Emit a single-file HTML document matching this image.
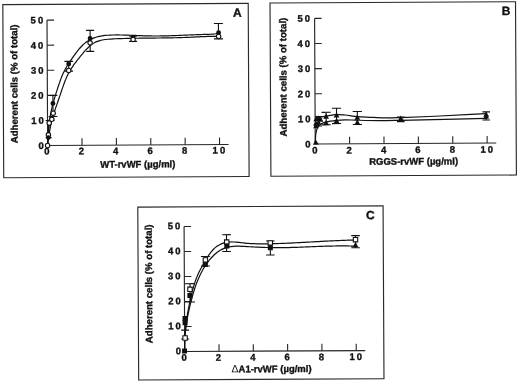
<!DOCTYPE html><html><head><meta charset="utf-8"><title>Figure</title><style>html,body{margin:0;padding:0;background:#fff;}svg{display:block}</style></head><body>
<svg width="520" height="383" viewBox="0 0 520 383">
<rect width="520" height="383" fill="#fff"/>
<g transform="rotate(-0.3 260 191.5)">
<rect x="3.80" y="3.25" width="245.40" height="173.20" fill="none" stroke="#2a2a2a" stroke-width="1.15"/>
<rect x="271.00" y="3.05" width="245.50" height="173.30" fill="none" stroke="#2a2a2a" stroke-width="1.15"/>
<rect x="137.70" y="206.50" width="245.30" height="172.85" fill="none" stroke="#2a2a2a" stroke-width="1.15"/>
<path d="M47.90 19.01 V144.36 H228.80" fill="none" stroke="#262626" stroke-width="1.15"/>
<path d="M47.90 119.29 h7M47.90 94.22 h7M47.90 69.15 h7M47.90 44.08 h7M47.90 19.01 h7M82.28 144.36 v-7M116.66 144.36 v-7M151.04 144.36 v-7M185.42 144.36 v-7M219.80 144.36 v-7" fill="none" stroke="#262626" stroke-width="1.1"/>
<text x="38.78" y="147.76" font-size="9.5" font-family="'Liberation Sans', Arial, Helvetica, sans-serif" font-weight="bold" stroke="#111" stroke-width="0.35" fill="#111">0</text>
<text x="31.50 38.78" y="122.69" font-size="9.5" font-family="'Liberation Sans', Arial, Helvetica, sans-serif" font-weight="bold" stroke="#111" stroke-width="0.35" fill="#111">10</text>
<text x="31.50 38.78" y="97.62" font-size="9.5" font-family="'Liberation Sans', Arial, Helvetica, sans-serif" font-weight="bold" stroke="#111" stroke-width="0.35" fill="#111">20</text>
<text x="31.50 38.78" y="72.55" font-size="9.5" font-family="'Liberation Sans', Arial, Helvetica, sans-serif" font-weight="bold" stroke="#111" stroke-width="0.35" fill="#111">30</text>
<text x="31.50 38.78" y="47.48" font-size="9.5" font-family="'Liberation Sans', Arial, Helvetica, sans-serif" font-weight="bold" stroke="#111" stroke-width="0.35" fill="#111">40</text>
<text x="31.50 38.78" y="22.41" font-size="9.5" font-family="'Liberation Sans', Arial, Helvetica, sans-serif" font-weight="bold" stroke="#111" stroke-width="0.35" fill="#111">50</text>
<text x="44.56" y="153.36" font-size="9.5" font-family="'Liberation Sans', Arial, Helvetica, sans-serif" font-weight="bold" stroke="#111" stroke-width="0.35" fill="#111">0</text>
<text x="78.94" y="153.36" font-size="9.5" font-family="'Liberation Sans', Arial, Helvetica, sans-serif" font-weight="bold" stroke="#111" stroke-width="0.35" fill="#111">2</text>
<text x="113.32" y="153.36" font-size="9.5" font-family="'Liberation Sans', Arial, Helvetica, sans-serif" font-weight="bold" stroke="#111" stroke-width="0.35" fill="#111">4</text>
<text x="147.70" y="153.36" font-size="9.5" font-family="'Liberation Sans', Arial, Helvetica, sans-serif" font-weight="bold" stroke="#111" stroke-width="0.35" fill="#111">6</text>
<text x="182.08" y="153.36" font-size="9.5" font-family="'Liberation Sans', Arial, Helvetica, sans-serif" font-weight="bold" stroke="#111" stroke-width="0.35" fill="#111">8</text>
<text x="212.82 220.10" y="153.36" font-size="9.5" font-family="'Liberation Sans', Arial, Helvetica, sans-serif" font-weight="bold" stroke="#111" stroke-width="0.35" fill="#111">10</text>
<text x="100.40" y="166.80" font-size="9.5" font-family="'Liberation Sans', Arial, Helvetica, sans-serif" font-weight="bold" stroke="#111" stroke-width="0.35" fill="#111">WT-rvWF (µg/ml)</text>
<text transform="translate(18.06 142.00) rotate(-90)" x="0" y="0" font-size="9.65" font-family="'Liberation Sans', Arial, Helvetica, sans-serif" font-weight="bold" stroke="#111" stroke-width="0.35" fill="#111">Adherent cells (% of total)</text>
<text x="234.00" y="16.70" font-size="12" font-family="'Liberation Sans', Arial, Helvetica, sans-serif" font-weight="bold" stroke="#111" stroke-width="0.35" fill="#111">A</text>
<path d="M47.82 144.18 C47.89 143.26 47.96 142.35 48.02 141.43 C48.09 140.51 48.15 139.59 48.22 138.67 C48.29 137.75 48.35 136.83 48.42 135.90 C48.49 134.98 48.56 134.06 48.63 133.13 C48.70 132.21 48.78 131.28 48.86 130.36 C48.94 129.43 49.02 128.51 49.11 127.59 C49.19 126.66 49.29 125.74 49.38 124.81 C49.48 123.89 49.59 122.97 49.70 122.05 C49.81 121.13 49.93 120.21 50.06 119.29 C50.18 118.37 50.32 117.46 50.46 116.54 C50.60 115.63 50.76 114.72 50.92 113.81 C51.08 112.90 51.26 111.99 51.44 111.08 C51.62 110.18 51.82 109.28 52.02 108.38 C52.22 107.48 52.43 106.58 52.66 105.68 C52.88 104.79 53.10 103.89 53.34 103.00 C53.58 102.11 53.82 101.22 54.07 100.33 C54.32 99.44 54.58 98.55 54.84 97.67 C55.11 96.78 55.38 95.89 55.65 95.01 C55.93 94.13 56.21 93.25 56.49 92.36 C56.77 91.48 57.06 90.60 57.35 89.72 C57.64 88.84 57.94 87.96 58.24 87.09 C58.53 86.21 58.83 85.33 59.14 84.45 C59.44 83.58 59.74 82.70 60.05 81.82 C60.36 80.95 60.67 80.07 60.99 79.20 C61.31 78.33 61.64 77.47 61.98 76.61 C62.32 75.75 62.67 74.89 63.04 74.04 C63.41 73.20 63.80 72.36 64.20 71.53 C64.61 70.70 65.03 69.88 65.47 69.07 C65.91 68.26 66.37 67.46 66.84 66.66 C67.30 65.87 67.79 65.08 68.28 64.30 C68.76 63.52 69.26 62.74 69.76 61.97 C70.27 61.20 70.77 60.43 71.28 59.66 C71.80 58.90 72.32 58.14 72.84 57.38 C73.37 56.62 73.90 55.87 74.44 55.12 C74.98 54.36 75.53 53.62 76.09 52.87 C76.65 52.12 77.21 51.38 77.79 50.64 C78.37 49.90 78.96 49.17 79.56 48.45 C80.16 47.73 80.78 47.02 81.41 46.33 C82.04 45.65 82.69 44.97 83.35 44.33 C84.02 43.68 84.70 43.05 85.41 42.46 C86.11 41.87 86.83 41.30 87.58 40.77 C88.33 40.24 89.10 39.74 89.89 39.29 C90.69 38.83 91.51 38.41 92.34 38.03 C93.18 37.65 94.03 37.30 94.90 36.99 C95.77 36.68 96.66 36.40 97.55 36.15 C98.44 35.90 99.34 35.68 100.25 35.49 C101.16 35.30 102.07 35.14 102.99 35.01 C103.90 34.87 104.82 34.76 105.74 34.66 C106.66 34.57 107.59 34.50 108.51 34.44 C109.44 34.38 110.36 34.34 111.29 34.31 C112.22 34.27 113.14 34.25 114.07 34.24 C115.00 34.22 115.92 34.21 116.85 34.21 C117.77 34.21 118.70 34.22 119.63 34.23 C120.55 34.24 121.48 34.25 122.40 34.27 C123.33 34.29 124.25 34.32 125.17 34.35 C126.10 34.37 127.02 34.41 127.95 34.44 C128.87 34.47 129.80 34.51 130.72 34.55 C131.64 34.59 132.57 34.63 133.49 34.68 C134.41 34.72 135.34 34.76 136.26 34.81 C137.18 34.85 138.11 34.89 139.03 34.94 C139.95 34.98 140.88 35.02 141.80 35.06 C142.73 35.10 143.65 35.14 144.57 35.18 C145.50 35.21 146.42 35.25 147.34 35.28 C148.27 35.31 149.19 35.34 150.12 35.36 C151.04 35.39 151.96 35.40 152.89 35.42 C153.81 35.43 154.74 35.44 155.66 35.45 C156.59 35.46 157.51 35.46 158.44 35.46 C159.36 35.46 160.29 35.46 161.21 35.45 C162.14 35.44 163.06 35.43 163.99 35.42 C164.91 35.41 165.84 35.39 166.76 35.37 C167.69 35.35 168.61 35.33 169.54 35.31 C170.46 35.29 171.39 35.26 172.31 35.24 C173.24 35.21 174.17 35.18 175.09 35.15 C176.02 35.12 176.94 35.09 177.87 35.06 C178.79 35.03 179.72 34.99 180.65 34.96 C181.57 34.93 182.50 34.89 183.42 34.86 C184.35 34.82 185.27 34.79 186.20 34.75 C187.12 34.72 188.05 34.68 188.97 34.65 C189.90 34.61 190.83 34.58 191.75 34.54 C192.68 34.51 193.60 34.48 194.53 34.45 C195.45 34.41 196.38 34.38 197.30 34.35 C198.23 34.32 199.15 34.30 200.07 34.27 C201.00 34.24 201.92 34.22 202.85 34.20 C203.77 34.18 204.70 34.16 205.62 34.14 C206.54 34.12 207.47 34.11 208.39 34.09 C209.31 34.06 210.24 34.04 211.16 34.00 C212.08 33.95 213.00 33.90 213.92 33.82 C214.84 33.74 215.76 33.64 216.68 33.50 C217.60 33.36 218.51 33.16 219.43 32.99" fill="none" stroke="#111" stroke-width="1.2"/>
<path d="M47.80 144.17 C47.94 143.30 48.08 142.42 48.22 141.54 C48.35 140.66 48.48 139.77 48.62 138.88 C48.75 137.99 48.88 137.10 49.01 136.21 C49.14 135.31 49.28 134.42 49.41 133.52 C49.55 132.62 49.69 131.73 49.84 130.83 C49.98 129.94 50.13 129.04 50.29 128.15 C50.45 127.25 50.61 126.36 50.79 125.47 C50.96 124.58 51.14 123.70 51.34 122.81 C51.53 121.93 51.74 121.05 51.95 120.18 C52.17 119.31 52.40 118.44 52.64 117.58 C52.88 116.71 53.13 115.85 53.39 115.00 C53.65 114.14 53.92 113.29 54.20 112.44 C54.48 111.59 54.76 110.74 55.05 109.90 C55.34 109.05 55.64 108.21 55.93 107.36 C56.23 106.52 56.54 105.68 56.84 104.83 C57.14 103.99 57.44 103.14 57.75 102.30 C58.05 101.45 58.35 100.60 58.65 99.75 C58.95 98.90 59.25 98.05 59.54 97.19 C59.84 96.34 60.13 95.48 60.42 94.62 C60.71 93.76 61.00 92.90 61.30 92.04 C61.59 91.18 61.88 90.32 62.18 89.46 C62.47 88.60 62.77 87.75 63.08 86.89 C63.38 86.03 63.69 85.18 64.00 84.33 C64.31 83.48 64.63 82.63 64.96 81.79 C65.29 80.95 65.62 80.11 65.97 79.28 C66.31 78.45 66.67 77.62 67.03 76.80 C67.40 75.98 67.77 75.17 68.16 74.36 C68.55 73.56 68.95 72.76 69.37 71.97 C69.79 71.18 70.22 70.40 70.66 69.63 C71.11 68.86 71.57 68.09 72.05 67.34 C72.53 66.59 73.03 65.85 73.54 65.12 C74.05 64.39 74.57 63.67 75.11 62.95 C75.64 62.23 76.19 61.52 76.74 60.81 C77.30 60.10 77.86 59.40 78.43 58.70 C79.00 57.99 79.58 57.29 80.16 56.59 C80.74 55.89 81.33 55.19 81.91 54.49 C82.50 53.79 83.09 53.09 83.68 52.39 C84.28 51.69 84.87 51.00 85.48 50.31 C86.09 49.63 86.70 48.95 87.33 48.30 C87.95 47.64 88.59 47.00 89.25 46.38 C89.90 45.77 90.57 45.17 91.26 44.60 C91.95 44.04 92.66 43.50 93.39 43.00 C94.12 42.51 94.87 42.05 95.64 41.64 C96.42 41.24 97.22 40.88 98.03 40.57 C98.85 40.25 99.69 39.98 100.54 39.75 C101.40 39.51 102.27 39.32 103.15 39.15 C104.03 38.98 104.93 38.84 105.83 38.72 C106.73 38.61 107.64 38.52 108.55 38.44 C109.46 38.36 110.38 38.30 111.30 38.25 C112.21 38.19 113.13 38.15 114.04 38.11 C114.95 38.07 115.86 38.03 116.77 38.00 C117.67 37.97 118.58 37.94 119.48 37.91 C120.38 37.88 121.28 37.86 122.18 37.84 C123.08 37.81 123.98 37.79 124.88 37.77 C125.78 37.76 126.68 37.74 127.58 37.72 C128.48 37.71 129.37 37.69 130.27 37.68 C131.17 37.67 132.07 37.66 132.97 37.64 C133.87 37.63 134.77 37.62 135.67 37.61 C136.57 37.60 137.47 37.60 138.37 37.59 C139.27 37.58 140.17 37.57 141.07 37.57 C141.97 37.56 142.87 37.56 143.77 37.55 C144.67 37.55 145.57 37.54 146.47 37.54 C147.37 37.53 148.27 37.53 149.17 37.52 C150.07 37.52 150.97 37.51 151.87 37.51 C152.77 37.51 153.67 37.50 154.58 37.50 C155.48 37.49 156.38 37.49 157.28 37.48 C158.18 37.48 159.08 37.47 159.98 37.47 C160.88 37.46 161.78 37.46 162.68 37.45 C163.58 37.44 164.48 37.44 165.38 37.43 C166.29 37.42 167.19 37.41 168.09 37.40 C168.99 37.39 169.89 37.38 170.79 37.37 C171.69 37.36 172.59 37.35 173.49 37.33 C174.39 37.32 175.29 37.30 176.19 37.29 C177.10 37.27 178.00 37.25 178.90 37.24 C179.80 37.22 180.70 37.20 181.60 37.17 C182.50 37.15 183.40 37.13 184.30 37.10 C185.20 37.08 186.10 37.05 187.00 37.02 C187.90 36.99 188.80 36.96 189.70 36.93 C190.60 36.89 191.50 36.86 192.40 36.82 C193.30 36.78 194.20 36.74 195.10 36.70 C196.00 36.67 196.90 36.62 197.80 36.58 C198.70 36.54 199.60 36.50 200.50 36.47 C201.40 36.43 202.30 36.39 203.20 36.35 C204.10 36.32 205.00 36.28 205.90 36.25 C206.80 36.22 207.70 36.19 208.60 36.17 C209.50 36.14 210.40 36.12 211.30 36.10 C212.21 36.08 213.11 36.07 214.01 36.06 C214.91 36.06 215.81 36.05 216.71 36.06 C217.61 36.06 218.51 36.08 219.41 36.09" fill="none" stroke="#111" stroke-width="1.2"/>
<path d="M53.40 94.32 V115.42 M49.00 94.32 h8.80 M49.00 115.42 h8.80" fill="none" stroke="#111" stroke-width="1.1"/>
<path d="M69.38 60.40 V70.10 M65.08 60.40 h8.60 M65.08 70.10 h8.60" fill="none" stroke="#111" stroke-width="1.1"/>
<path d="M90.94 29.51 V50.51 M86.94 29.51 h8.00 M86.94 50.51 h8.00" fill="none" stroke="#111" stroke-width="1.1"/>
<path d="M133.91 35.54 V40.74 M129.91 35.54 h8.00 M129.91 40.74 h8.00" fill="none" stroke="#111" stroke-width="1.1"/>
<path d="M219.28 23.28 V38.68 M214.78 23.28 h9.00 M214.78 38.68 h9.00" fill="none" stroke="#111" stroke-width="1.1"/>
<path d="M48.97 119.39 V136.49 M45.97 119.39 h6.00 M45.97 136.49 h6.00" fill="none" stroke="#111" stroke-width="1.1"/>
<circle cx="47.84" cy="144.39" r="2.2" fill="#fff" stroke="#111" stroke-width="1.1"/>
<circle cx="48.70" cy="133.69" r="2.2" fill="#fff" stroke="#111" stroke-width="1.1"/>
<circle cx="48.68" cy="136.49" r="2.45" fill="#111"/>
<circle cx="49.56" cy="121.90" r="2.2" fill="#fff" stroke="#111" stroke-width="1.1"/>
<circle cx="52.18" cy="118.21" r="2.2" fill="#fff" stroke="#111" stroke-width="1.1"/>
<circle cx="53.36" cy="102.32" r="2.45" fill="#111"/>
<circle cx="53.61" cy="112.12" r="2.2" fill="#fff" stroke="#111" stroke-width="1.1"/>
<circle cx="69.37" cy="62.90" r="2.45" fill="#111"/>
<circle cx="69.33" cy="69.50" r="2.2" fill="#fff" stroke="#111" stroke-width="1.1"/>
<circle cx="90.90" cy="37.61" r="2.45" fill="#111"/>
<circle cx="90.88" cy="41.91" r="2.2" fill="#fff" stroke="#111" stroke-width="1.1"/>
<circle cx="133.91" cy="36.94" r="2.45" fill="#111"/>
<circle cx="133.90" cy="38.74" r="2.2" fill="#fff" stroke="#111" stroke-width="1.1"/>
<circle cx="219.43" cy="32.58" r="2.45" fill="#111"/>
<circle cx="219.41" cy="36.18" r="2.2" fill="#fff" stroke="#111" stroke-width="1.1"/>
<path d="M315.50 18.67 V144.27 H496.50" fill="none" stroke="#262626" stroke-width="1.15"/>
<path d="M315.50 119.15 h7M315.50 94.03 h7M315.50 68.91 h7M315.50 43.79 h7M315.50 18.67 h7M349.88 144.27 v-7M384.26 144.27 v-7M418.64 144.27 v-7M453.02 144.27 v-7M487.40 144.27 v-7" fill="none" stroke="#262626" stroke-width="1.1"/>
<text x="305.58" y="147.67" font-size="9.5" font-family="'Liberation Sans', Arial, Helvetica, sans-serif" font-weight="bold" stroke="#111" stroke-width="0.35" fill="#111">0</text>
<text x="298.30 305.58" y="122.55" font-size="9.5" font-family="'Liberation Sans', Arial, Helvetica, sans-serif" font-weight="bold" stroke="#111" stroke-width="0.35" fill="#111">10</text>
<text x="298.30 305.58" y="97.43" font-size="9.5" font-family="'Liberation Sans', Arial, Helvetica, sans-serif" font-weight="bold" stroke="#111" stroke-width="0.35" fill="#111">20</text>
<text x="298.30 305.58" y="72.31" font-size="9.5" font-family="'Liberation Sans', Arial, Helvetica, sans-serif" font-weight="bold" stroke="#111" stroke-width="0.35" fill="#111">30</text>
<text x="298.30 305.58" y="47.19" font-size="9.5" font-family="'Liberation Sans', Arial, Helvetica, sans-serif" font-weight="bold" stroke="#111" stroke-width="0.35" fill="#111">40</text>
<text x="298.30 305.58" y="22.07" font-size="9.5" font-family="'Liberation Sans', Arial, Helvetica, sans-serif" font-weight="bold" stroke="#111" stroke-width="0.35" fill="#111">50</text>
<text x="312.36" y="153.87" font-size="9.5" font-family="'Liberation Sans', Arial, Helvetica, sans-serif" font-weight="bold" stroke="#111" stroke-width="0.35" fill="#111">0</text>
<text x="346.74" y="153.87" font-size="9.5" font-family="'Liberation Sans', Arial, Helvetica, sans-serif" font-weight="bold" stroke="#111" stroke-width="0.35" fill="#111">2</text>
<text x="381.12" y="153.87" font-size="9.5" font-family="'Liberation Sans', Arial, Helvetica, sans-serif" font-weight="bold" stroke="#111" stroke-width="0.35" fill="#111">4</text>
<text x="415.50" y="153.87" font-size="9.5" font-family="'Liberation Sans', Arial, Helvetica, sans-serif" font-weight="bold" stroke="#111" stroke-width="0.35" fill="#111">6</text>
<text x="449.88" y="153.87" font-size="9.5" font-family="'Liberation Sans', Arial, Helvetica, sans-serif" font-weight="bold" stroke="#111" stroke-width="0.35" fill="#111">8</text>
<text x="480.62 487.90" y="153.87" font-size="9.5" font-family="'Liberation Sans', Arial, Helvetica, sans-serif" font-weight="bold" stroke="#111" stroke-width="0.35" fill="#111">10</text>
<text x="369.34" y="165.40" font-size="9.5" font-family="'Liberation Sans', Arial, Helvetica, sans-serif" font-weight="bold" stroke="#111" stroke-width="0.35" fill="#111">RGGS-rvWF (µg/ml)</text>
<text transform="translate(287.00 136.60) rotate(-90)" x="0" y="0" font-size="9.65" font-family="'Liberation Sans', Arial, Helvetica, sans-serif" font-weight="bold" stroke="#111" stroke-width="0.35" fill="#111">Adherent cells (% of total)</text>
<text x="502.70" y="16.20" font-size="12" font-family="'Liberation Sans', Arial, Helvetica, sans-serif" font-weight="bold" stroke="#111" stroke-width="0.35" fill="#111">B</text>
<path d="M316.38 119.29 C317.05 118.83 317.43 118.29 318.39 117.90 C320.13 117.19 323.62 117.00 326.49 116.55 C329.75 116.03 333.60 115.16 336.90 115.00 C339.87 114.86 342.31 115.16 345.40 115.45 C349.13 115.79 353.55 116.70 357.69 117.11 C361.88 117.52 365.98 117.64 370.39 117.88 C375.18 118.13 380.32 118.47 385.39 118.55 C390.58 118.64 394.74 118.50 401.19 118.34 C411.34 118.09 426.79 117.50 440.40 116.94 C455.17 116.33 471.20 115.50 486.61 114.78" fill="none" stroke="#111" stroke-width="1.2"/>
<path d="M315.55 143.79 C315.73 140.62 315.64 137.11 316.10 134.29 C316.49 131.96 316.83 129.74 317.83 128.00 C318.75 126.41 320.18 125.08 321.65 124.12 C323.10 123.18 324.59 122.76 326.56 122.25 C329.34 121.52 333.59 121.03 336.87 120.70 C339.84 120.40 342.28 120.27 345.38 120.25 C349.10 120.22 352.95 120.57 357.67 120.71 C364.09 120.90 372.97 121.18 380.37 121.23 C387.46 121.28 391.89 121.16 401.17 121.04 C419.99 120.78 458.11 120.00 486.58 119.48" fill="none" stroke="#111" stroke-width="1.2"/>
<path d="M326.51 112.65 V125.15 M321.91 112.65 h9.20 M321.91 125.15 h9.20" fill="none" stroke="#111" stroke-width="1.1"/>
<path d="M336.94 108.70 V124.00 M332.34 108.70 h9.20 M332.34 124.00 h9.20" fill="none" stroke="#111" stroke-width="1.1"/>
<path d="M357.72 112.01 V125.01 M353.12 112.01 h9.20 M353.12 125.01 h9.20" fill="none" stroke="#111" stroke-width="1.1"/>
<path d="M401.19 117.74 V122.34 M397.39 117.74 h7.60 M397.39 122.34 h7.60" fill="none" stroke="#111" stroke-width="1.1"/>
<path d="M486.62 113.08 V121.18 M482.82 113.08 h7.60 M482.82 121.18 h7.60" fill="none" stroke="#111" stroke-width="1.1"/>
<path d="M318.89 116.81 V126.31 M315.39 116.81 h7.00 M315.39 126.31 h7.00" fill="none" stroke="#111" stroke-width="1.1"/>
<path d="M326.49 113.85 L329.39 119.07 L323.59 119.07Z" fill="#111"/>
<path d="M326.46 120.25 L329.36 125.47 L323.56 125.47Z" fill="#111"/>
<path d="M336.90 112.70 L339.80 117.92 L334.00 117.92Z" fill="#111"/>
<path d="M336.87 118.30 L339.77 123.52 L333.97 123.52Z" fill="#111"/>
<path d="M357.69 115.01 L360.59 120.23 L354.79 120.23Z" fill="#111"/>
<path d="M357.66 119.91 L360.56 125.13 L354.76 125.13Z" fill="#111"/>
<path d="M401.18 116.14 L404.08 121.36 L398.28 121.36Z" fill="#111"/>
<path d="M401.18 117.44 L404.08 122.66 L398.28 122.66Z" fill="#111"/>
<path d="M486.60 112.78 L489.50 118.00 L483.70 118.00Z" fill="#111"/>
<path d="M486.59 114.68 L489.49 119.90 L483.69 119.90Z" fill="#111"/>
<path d="M316.68 116.39 L319.58 121.61 L313.78 121.61Z" fill="#111"/>
<path d="M318.88 115.91 L321.78 121.13 L315.98 121.13Z" fill="#111"/>
<path d="M320.88 116.92 L323.78 122.14 L317.98 122.14Z" fill="#111"/>
<path d="M316.36 120.89 L319.26 126.11 L313.46 126.11Z" fill="#111"/>
<path d="M318.86 119.91 L321.76 125.13 L315.96 125.13Z" fill="#111"/>
<path d="M316.34 123.39 L319.24 128.61 L313.44 128.61Z" fill="#111"/>
<path d="M316.06 139.69 L318.96 144.91 L313.16 144.91Z" fill="#111"/>
<path d="M183.90 226.14 V351.14 H364.40" fill="none" stroke="#262626" stroke-width="1.15"/>
<path d="M183.90 326.14 h7M183.90 301.14 h7M183.90 276.14 h7M183.90 251.14 h7M183.90 226.14 h7M218.20 351.14 v-7M252.50 351.14 v-7M286.80 351.14 v-7M321.10 351.14 v-7M355.40 351.14 v-7" fill="none" stroke="#262626" stroke-width="1.1"/>
<text x="174.88" y="353.84" font-size="9.5" font-family="'Liberation Sans', Arial, Helvetica, sans-serif" font-weight="bold" stroke="#111" stroke-width="0.35" fill="#111">0</text>
<text x="167.60 174.88" y="328.84" font-size="9.5" font-family="'Liberation Sans', Arial, Helvetica, sans-serif" font-weight="bold" stroke="#111" stroke-width="0.35" fill="#111">10</text>
<text x="167.60 174.88" y="303.84" font-size="9.5" font-family="'Liberation Sans', Arial, Helvetica, sans-serif" font-weight="bold" stroke="#111" stroke-width="0.35" fill="#111">20</text>
<text x="167.60 174.88" y="278.84" font-size="9.5" font-family="'Liberation Sans', Arial, Helvetica, sans-serif" font-weight="bold" stroke="#111" stroke-width="0.35" fill="#111">30</text>
<text x="167.60 174.88" y="253.84" font-size="9.5" font-family="'Liberation Sans', Arial, Helvetica, sans-serif" font-weight="bold" stroke="#111" stroke-width="0.35" fill="#111">40</text>
<text x="167.60 174.88" y="228.84" font-size="9.5" font-family="'Liberation Sans', Arial, Helvetica, sans-serif" font-weight="bold" stroke="#111" stroke-width="0.35" fill="#111">50</text>
<text x="180.66" y="360.44" font-size="9.5" font-family="'Liberation Sans', Arial, Helvetica, sans-serif" font-weight="bold" stroke="#111" stroke-width="0.35" fill="#111">0</text>
<text x="214.96" y="360.44" font-size="9.5" font-family="'Liberation Sans', Arial, Helvetica, sans-serif" font-weight="bold" stroke="#111" stroke-width="0.35" fill="#111">2</text>
<text x="249.26" y="360.44" font-size="9.5" font-family="'Liberation Sans', Arial, Helvetica, sans-serif" font-weight="bold" stroke="#111" stroke-width="0.35" fill="#111">4</text>
<text x="283.56" y="360.44" font-size="9.5" font-family="'Liberation Sans', Arial, Helvetica, sans-serif" font-weight="bold" stroke="#111" stroke-width="0.35" fill="#111">6</text>
<text x="317.86" y="360.44" font-size="9.5" font-family="'Liberation Sans', Arial, Helvetica, sans-serif" font-weight="bold" stroke="#111" stroke-width="0.35" fill="#111">8</text>
<text x="348.52 355.80" y="360.44" font-size="9.5" font-family="'Liberation Sans', Arial, Helvetica, sans-serif" font-weight="bold" stroke="#111" stroke-width="0.35" fill="#111">10</text>
<text x="230.60" y="372.20" font-size="9.5" font-family="'Liberation Sans', Arial, Helvetica, sans-serif" font-weight="bold" stroke="#111" stroke-width="0.35" fill="#111"><tspan font-weight="normal" stroke-width="0" font-size="10.5">Δ</tspan>A1-rvWF (µg/ml)</text>
<text transform="translate(151.60 342.60) rotate(-90)" x="0" y="0" font-size="9.65" font-family="'Liberation Sans', Arial, Helvetica, sans-serif" font-weight="bold" stroke="#111" stroke-width="0.35" fill="#111">Adherent cells (% of total)</text>
<text x="365.80" y="219.70" font-size="12" font-family="'Liberation Sans', Arial, Helvetica, sans-serif" font-weight="bold" stroke="#111" stroke-width="0.35" fill="#111">C</text>
<path d="M183.80 350.60 C183.80 349.65 183.78 348.71 183.79 347.77 C183.79 346.83 183.80 345.88 183.81 344.94 C183.83 344.00 183.86 343.06 183.89 342.11 C183.92 341.17 183.96 340.23 184.00 339.29 C184.05 338.34 184.10 337.40 184.16 336.46 C184.22 335.51 184.29 334.57 184.36 333.63 C184.43 332.69 184.51 331.75 184.60 330.81 C184.69 329.86 184.78 328.92 184.88 327.98 C184.98 327.04 185.08 326.10 185.20 325.16 C185.31 324.22 185.43 323.28 185.55 322.35 C185.67 321.41 185.80 320.47 185.94 319.53 C186.08 318.60 186.22 317.66 186.37 316.73 C186.51 315.79 186.67 314.86 186.82 313.92 C186.98 312.99 187.15 312.06 187.32 311.13 C187.49 310.20 187.66 309.27 187.84 308.34 C188.02 307.41 188.21 306.48 188.40 305.56 C188.59 304.63 188.78 303.71 188.99 302.78 C189.19 301.86 189.39 300.94 189.60 300.02 C189.81 299.10 190.03 298.18 190.25 297.26 C190.46 296.34 190.69 295.43 190.92 294.51 C191.15 293.60 191.38 292.68 191.62 291.77 C191.85 290.86 192.09 289.95 192.34 289.05 C192.59 288.14 192.84 287.24 193.10 286.34 C193.37 285.44 193.64 284.54 193.92 283.65 C194.20 282.76 194.49 281.87 194.80 280.99 C195.11 280.11 195.43 279.24 195.76 278.37 C196.10 277.50 196.45 276.64 196.82 275.78 C197.18 274.93 197.56 274.08 197.96 273.23 C198.35 272.38 198.76 271.54 199.18 270.70 C199.60 269.85 200.03 269.02 200.47 268.18 C200.91 267.34 201.37 266.51 201.83 265.67 C202.30 264.84 202.78 264.00 203.26 263.17 C203.74 262.33 204.24 261.50 204.74 260.67 C205.24 259.83 205.75 258.99 206.27 258.17 C206.79 257.34 207.32 256.51 207.86 255.71 C208.41 254.90 208.96 254.10 209.54 253.33 C210.12 252.56 210.71 251.80 211.32 251.08 C211.93 250.36 212.56 249.66 213.22 249.00 C213.88 248.35 214.56 247.72 215.27 247.14 C215.97 246.57 216.71 246.04 217.47 245.55 C218.22 245.07 219.01 244.63 219.82 244.23 C220.62 243.84 221.45 243.50 222.30 243.20 C223.15 242.91 224.02 242.66 224.90 242.46 C225.78 242.26 226.69 242.12 227.60 242.01 C228.52 241.91 229.45 241.86 230.38 241.83 C231.33 241.80 232.28 241.83 233.23 241.86 C234.19 241.90 235.16 241.97 236.13 242.05 C237.10 242.13 238.07 242.24 239.05 242.34 C240.02 242.45 241.00 242.57 241.97 242.68 C242.95 242.79 243.92 242.91 244.89 243.01 C245.85 243.11 246.82 243.20 247.78 243.28 C248.73 243.36 249.69 243.43 250.64 243.49 C251.59 243.55 252.54 243.61 253.48 243.65 C254.42 243.70 255.36 243.73 256.30 243.76 C257.24 243.79 258.18 243.81 259.11 243.83 C260.05 243.85 260.98 243.86 261.92 243.86 C262.85 243.87 263.78 243.87 264.71 243.87 C265.64 243.86 266.58 243.86 267.51 243.85 C268.44 243.84 269.37 243.82 270.31 243.81 C271.24 243.79 272.18 243.77 273.11 243.75 C274.05 243.73 274.99 243.71 275.92 243.69 C276.86 243.66 277.80 243.64 278.74 243.61 C279.68 243.58 280.62 243.55 281.57 243.52 C282.51 243.49 283.45 243.46 284.39 243.42 C285.34 243.39 286.28 243.36 287.23 243.32 C288.17 243.28 289.12 243.24 290.07 243.21 C291.01 243.17 291.96 243.13 292.91 243.09 C293.86 243.04 294.80 243.00 295.75 242.96 C296.70 242.92 297.65 242.87 298.60 242.83 C299.55 242.78 300.50 242.74 301.45 242.69 C302.40 242.65 303.35 242.60 304.30 242.55 C305.25 242.51 306.20 242.46 307.15 242.41 C308.10 242.36 309.05 242.32 310.00 242.27 C310.95 242.22 311.90 242.17 312.85 242.13 C313.80 242.08 314.75 242.03 315.70 241.98 C316.65 241.94 317.60 241.89 318.55 241.84 C319.50 241.79 320.45 241.75 321.40 241.70 C322.35 241.65 323.30 241.61 324.25 241.56 C325.19 241.52 326.14 241.47 327.09 241.43 C328.04 241.39 328.98 241.34 329.93 241.30 C330.87 241.26 331.82 241.22 332.76 241.18 C333.71 241.14 334.65 241.10 335.60 241.06 C336.54 241.02 337.48 240.99 338.42 240.95 C339.36 240.92 340.30 240.88 341.24 240.85 C342.18 240.82 343.12 240.79 344.06 240.76 C344.99 240.73 345.93 240.70 346.87 240.68 C347.80 240.65 348.73 240.63 349.67 240.61 C350.60 240.59 351.53 240.57 352.46 240.55 C353.39 240.53 354.32 240.52 355.25 240.50" fill="none" stroke="#111" stroke-width="1.2"/>
<path d="M183.85 350.61 C183.83 349.68 183.81 348.76 183.80 347.83 C183.79 346.91 183.80 345.98 183.81 345.06 C183.82 344.13 183.85 343.21 183.88 342.28 C183.91 341.36 183.95 340.44 184.00 339.51 C184.05 338.59 184.11 337.67 184.18 336.75 C184.24 335.83 184.32 334.90 184.41 333.98 C184.49 333.06 184.58 332.15 184.68 331.23 C184.78 330.31 184.89 329.39 185.01 328.47 C185.12 327.56 185.25 326.64 185.38 325.73 C185.51 324.81 185.64 323.90 185.79 322.98 C185.93 322.07 186.09 321.16 186.24 320.25 C186.40 319.34 186.57 318.43 186.74 317.52 C186.91 316.61 187.08 315.70 187.27 314.80 C187.45 313.89 187.64 312.99 187.83 312.08 C188.02 311.18 188.22 310.28 188.43 309.38 C188.63 308.48 188.84 307.58 189.06 306.68 C189.27 305.78 189.49 304.89 189.71 303.99 C189.94 303.10 190.16 302.20 190.40 301.31 C190.63 300.42 190.86 299.53 191.10 298.64 C191.34 297.76 191.59 296.87 191.84 295.99 C192.09 295.10 192.34 294.22 192.60 293.34 C192.86 292.46 193.13 291.59 193.40 290.71 C193.68 289.84 193.96 288.97 194.25 288.10 C194.54 287.23 194.83 286.36 195.14 285.50 C195.45 284.64 195.76 283.78 196.09 282.93 C196.41 282.07 196.75 281.22 197.09 280.37 C197.44 279.53 197.80 278.68 198.17 277.85 C198.54 277.01 198.92 276.17 199.32 275.34 C199.71 274.51 200.12 273.69 200.54 272.87 C200.97 272.04 201.40 271.23 201.85 270.42 C202.31 269.61 202.77 268.80 203.26 268.01 C203.74 267.20 204.24 266.41 204.75 265.62 C205.27 264.84 205.80 264.05 206.35 263.28 C206.90 262.51 207.47 261.75 208.05 261.01 C208.63 260.26 209.23 259.53 209.85 258.82 C210.46 258.11 211.09 257.41 211.74 256.73 C212.39 256.06 213.05 255.40 213.74 254.77 C214.42 254.15 215.11 253.54 215.83 252.97 C216.54 252.40 217.27 251.85 218.02 251.33 C218.76 250.82 219.52 250.34 220.30 249.89 C221.08 249.45 221.87 249.03 222.68 248.66 C223.49 248.29 224.32 247.96 225.16 247.67 C226.00 247.38 226.86 247.14 227.73 246.94 C228.61 246.73 229.50 246.58 230.39 246.45 C231.29 246.33 232.20 246.24 233.12 246.18 C234.04 246.11 234.97 246.09 235.90 246.07 C236.83 246.06 237.77 246.07 238.71 246.10 C239.65 246.12 240.60 246.16 241.54 246.21 C242.49 246.25 243.43 246.31 244.38 246.37 C245.32 246.42 246.26 246.48 247.20 246.54 C248.13 246.59 249.06 246.65 250.00 246.71 C250.93 246.76 251.86 246.82 252.79 246.87 C253.71 246.93 254.64 246.98 255.56 247.03 C256.49 247.08 257.41 247.13 258.33 247.18 C259.25 247.23 260.17 247.28 261.09 247.32 C262.01 247.37 262.93 247.41 263.85 247.45 C264.76 247.49 265.68 247.52 266.60 247.55 C267.52 247.59 268.43 247.62 269.35 247.64 C270.27 247.67 271.19 247.69 272.11 247.71 C273.03 247.72 273.95 247.74 274.87 247.75 C275.79 247.76 276.71 247.77 277.63 247.77 C278.55 247.77 279.47 247.77 280.39 247.77 C281.31 247.77 282.24 247.76 283.16 247.76 C284.08 247.75 285.00 247.74 285.93 247.72 C286.85 247.71 287.77 247.70 288.70 247.68 C289.62 247.66 290.54 247.64 291.47 247.62 C292.39 247.60 293.32 247.58 294.24 247.55 C295.17 247.53 296.09 247.50 297.02 247.47 C297.94 247.45 298.87 247.42 299.79 247.39 C300.72 247.36 301.64 247.33 302.57 247.30 C303.50 247.27 304.42 247.23 305.35 247.20 C306.27 247.17 307.20 247.14 308.12 247.10 C309.05 247.07 309.98 247.04 310.90 247.00 C311.83 246.97 312.75 246.94 313.68 246.91 C314.61 246.88 315.53 246.84 316.46 246.81 C317.38 246.78 318.31 246.75 319.24 246.72 C320.16 246.69 321.09 246.66 322.01 246.64 C322.94 246.61 323.86 246.58 324.79 246.56 C325.71 246.54 326.64 246.51 327.56 246.49 C328.49 246.47 329.41 246.45 330.34 246.44 C331.26 246.42 332.19 246.40 333.11 246.39 C334.03 246.38 334.96 246.37 335.88 246.36 C336.80 246.36 337.73 246.35 338.65 246.35 C339.57 246.35 340.49 246.35 341.42 246.35 C342.34 246.36 343.26 246.37 344.18 246.38 C345.10 246.39 346.02 246.40 346.94 246.42 C347.86 246.44 348.78 246.46 349.70 246.49 C350.62 246.52 351.54 246.55 352.46 246.58 C353.38 246.62 354.30 246.66 355.21 246.70" fill="none" stroke="#111" stroke-width="1.2"/>
<path d="M189.52 283.33 V301.63 M184.52 283.33 h10.00 M184.52 301.63 h10.00" fill="none" stroke="#111" stroke-width="1.1"/>
<path d="M205.06 256.21 V265.71 M200.56 256.21 h9.00 M200.56 265.71 h9.00" fill="none" stroke="#111" stroke-width="1.1"/>
<path d="M226.27 234.52 V251.32 M221.97 234.52 h8.60 M221.97 251.32 h8.60" fill="none" stroke="#111" stroke-width="1.1"/>
<path d="M270.04 241.05 V255.05 M265.74 241.05 h8.60 M265.74 255.05 h8.60" fill="none" stroke="#111" stroke-width="1.1"/>
<path d="M355.27 236.10 V248.20 M350.97 236.10 h8.60 M350.97 248.20 h8.60" fill="none" stroke="#111" stroke-width="1.1"/>
<path d="M184.37 329.71 V338.61 M180.37 329.71 h8.00 M180.37 338.61 h8.00" fill="none" stroke="#111" stroke-width="1.1"/>
<rect x="181.26" y="348.11" width="5.0" height="5.0" fill="#111"/>
<rect x="182.13" y="335.41" width="4.4" height="4.4" fill="#fff" stroke="#111" stroke-width="1.1"/>
<rect x="181.91" y="319.91" width="5.0" height="5.0" fill="#111"/>
<rect x="181.84" y="315.61" width="5.0" height="5.0" fill="#111"/>
<rect x="187.29" y="286.73" width="4.4" height="4.4" fill="#fff" stroke="#111" stroke-width="1.1"/>
<rect x="186.86" y="292.53" width="5.0" height="5.0" fill="#111"/>
<rect x="202.84" y="257.41" width="4.4" height="4.4" fill="#fff" stroke="#111" stroke-width="1.1"/>
<rect x="202.52" y="261.61" width="5.0" height="5.0" fill="#111"/>
<rect x="224.24" y="239.73" width="4.4" height="4.4" fill="#fff" stroke="#111" stroke-width="1.1"/>
<rect x="224.02" y="243.23" width="5.0" height="5.0" fill="#111"/>
<rect x="267.83" y="240.75" width="4.4" height="4.4" fill="#fff" stroke="#111" stroke-width="1.1"/>
<rect x="267.51" y="245.35" width="5.0" height="5.0" fill="#111"/>
<rect x="353.05" y="238.00" width="4.4" height="4.4" fill="#fff" stroke="#111" stroke-width="1.1"/>
<path d="M355.22 242.60 L358.12 247.82 L352.32 247.82Z" fill="#111"/>
</g></svg></body></html>
